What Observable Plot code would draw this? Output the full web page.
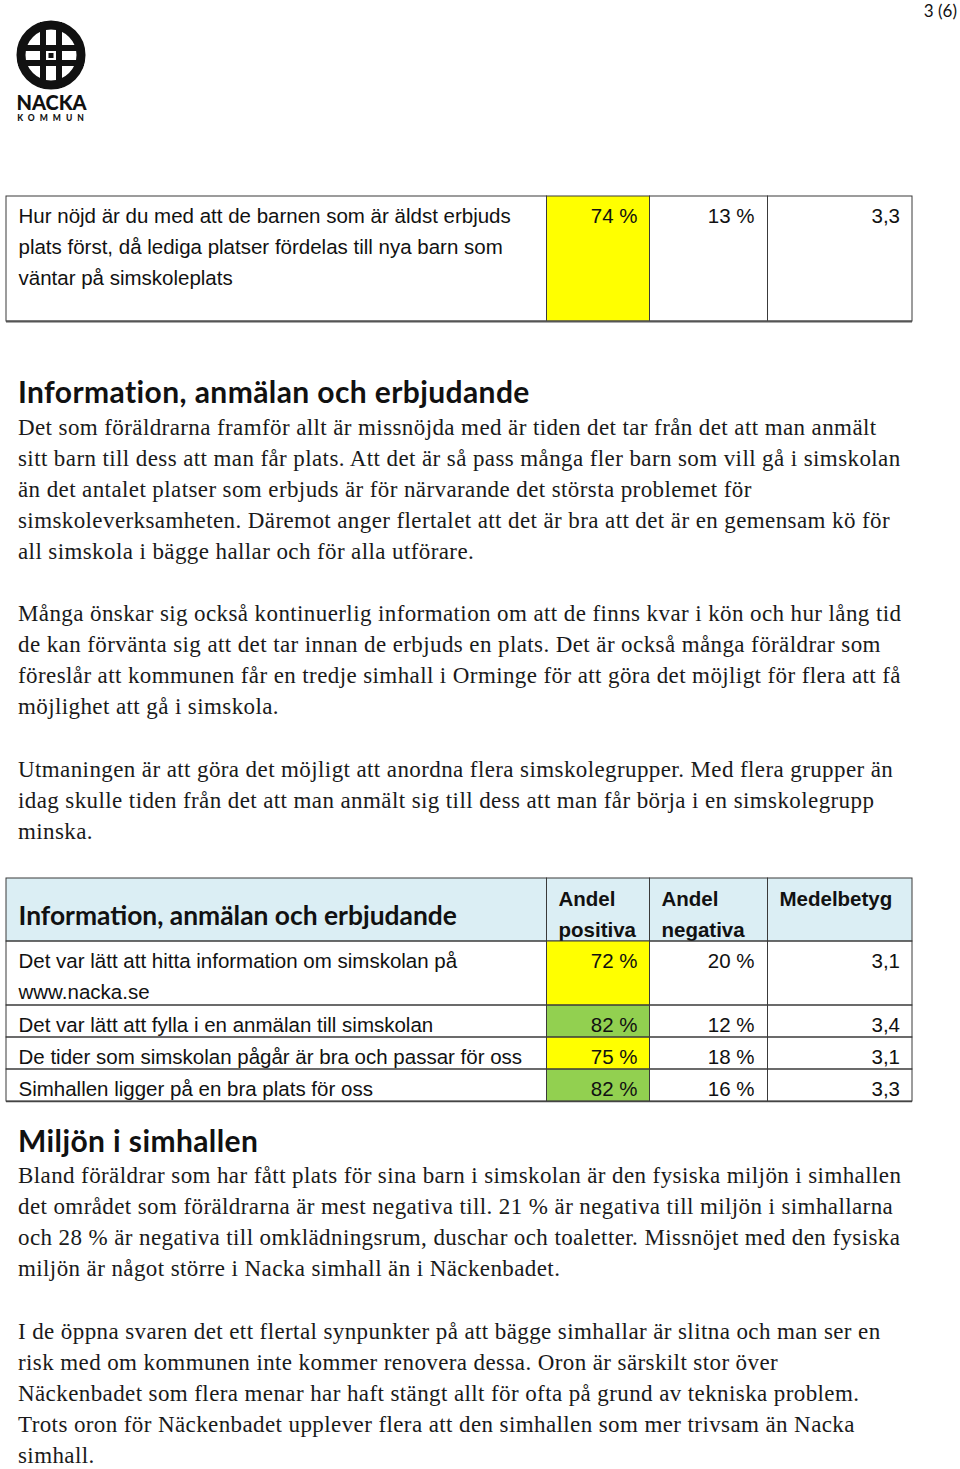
<!DOCTYPE html>
<html>
<head>
<meta charset="utf-8">
<script src="https://cdn.jsdelivr.net/npm/d3@7"></script>
<script src="https://cdn.jsdelivr.net/npm/@observablehq/plot@0.6"></script>
<style>
  html, body { margin: 0; padding: 0; background: #fff; }
  #page { position: relative; width: 960px; height: 1469px; overflow: hidden; background: #fff; color: #111; }
  .abs { position: absolute; white-space: nowrap; }
  .serif { font-family: "Liberation Serif", "Times New Roman", serif; font-size: 23px; letter-spacing: 0.4px; line-height: 31px; color: #1a1a1a; }
  .head { font-family: Lato, "Open Sans", sans-serif; font-weight: 700; font-size: 30px; letter-spacing: 0.4px; line-height: 34px; color: #111; }
</style>
</head>
<body>
<div id="page">
  <svg class="abs" style="left:0;top:0" width="110" height="130" viewBox="0 0 110 130">
    <circle cx="51" cy="55" r="30" fill="none" stroke="#111" stroke-width="9"/>
    <rect x="40" y="22" width="6" height="66" fill="#111"/>
    <rect x="56" y="22" width="6" height="66" fill="#111"/>
    <rect x="18" y="45" width="66" height="6" fill="#111"/>
    <rect x="18" y="60" width="66" height="6" fill="#111"/>
    <rect x="46" y="51" width="10" height="9" fill="#fff"/>
    <rect x="48.5" y="53" width="5" height="5" fill="#111"/>
    <text x="51.5" y="110" text-anchor="middle" font-family="Lato, sans-serif" font-weight="900" font-size="20" letter-spacing="0" fill="#111">NACKA</text>
    <text x="53" y="121" text-anchor="middle" font-family="Lato, sans-serif" font-weight="900" font-size="8.5" letter-spacing="5" fill="#111">KOMMUN</text>
  </svg>
  <div class="abs" style="right:3px;top:0px;font-family:Lato,sans-serif;font-size:17px;line-height:22px;color:#111">3 (6)</div>
  <div id="table1" class="abs" style="left:0;top:186px"></div>
  <div id="table2" class="abs" style="left:0;top:868px"></div>
</div>
<script>
// ---------- Data ----------
const t1Questions = ["Hur nöjd är du med att de barnen som är äldst erbjuds\nplats först, då lediga platser fördelas till nya barn som\nväntar på simskoleplats"];
const t1Positive = [74];
const t1Negative = [13];
const t1Average = [3.3];

const t2Title = "Information, anmälan och erbjudande";
const t2Headers = ["Andel\npositiva", "Andel\nnegativa", "Medelbetyg"];
const t2Questions = [
  "Det var lätt att hitta information om simskolan på\nwww.nacka.se",
  "Det var lätt att fylla i en anmälan till simskolan",
  "De tider som simskolan pågår är bra och passar för oss",
  "Simhallen ligger på en bra plats för oss"
];
const t2Positive = [72, 82, 75, 82];
const t2Negative = [20, 12, 18, 16];
const t2Average = [3.1, 3.4, 3.1, 3.3];

const headings = ["Information, anmälan och erbjudande", "Miljön i simhallen"];
const paragraphs = [
  ["Det som föräldrarna framför allt är missnöjda med är tiden det tar från det att man anmält",
   "sitt barn till dess att man får plats. Att det är så pass många fler barn som vill gå i simskolan",
   "än det antalet platser som erbjuds är för närvarande det största problemet för",
   "simskoleverksamheten. Däremot anger flertalet att det är bra att det är en gemensam kö för",
   "all simskola i bägge hallar och för alla utförare."],
  ["Många önskar sig också kontinuerlig information om att de finns kvar i kön och hur lång tid",
   "de kan förvänta sig att det tar innan de erbjuds en plats. Det är också många föräldrar som",
   "föreslår att kommunen får en tredje simhall i Orminge för att göra det möjligt för flera att få",
   "möjlighet att gå i simskola."],
  ["Utmaningen är att göra det möjligt att anordna flera simskolegrupper. Med flera grupper än",
   "idag skulle tiden från det att man anmält sig till dess att man får börja i en simskolegrupp",
   "minska."],
  ["Bland föräldrar som har fått plats för sina barn i simskolan är den fysiska miljön i simhallen",
   "det området som föräldrarna är mest negativa till. 21 % är negativa till miljön i simhallarna",
   "och 28 % är negativa till omklädningsrum, duschar och toaletter. Missnöjet med den fysiska",
   "miljön är något större i Nacka simhall än i Näckenbadet."],
  ["I de öppna svaren det ett flertal synpunkter på att bägge simhallar är slitna och man ser en",
   "risk med om kommunen inte kommer renovera dessa. Oron är särskilt stor över",
   "Näckenbadet som flera menar har haft stängt allt för ofta på grund av tekniska problem.",
   "Trots oron för Näckenbadet upplever flera att den simhallen som mer trivsam än Nacka",
   "simhall."]
];

// ---------- Layout (page text) ----------
const page = document.getElementById("page");
const headingTops = [374, 1123];
const paraTops = [412, 598, 754, 1160, 1316];
headings.forEach((h, i) => {
  const d = document.createElement("div");
  d.className = "abs head";
  d.style.left = "18px"; d.style.top = headingTops[i] + "px";
  d.textContent = h;
  page.appendChild(d);
});
paragraphs.forEach((lines, i) => {
  lines.forEach((ln, j) => {
    const d = document.createElement("div");
    d.className = "abs serif";
    d.style.left = "18px"; d.style.top = (paraTops[i] + j * 31.1) + "px";
    d.textContent = ln;
    page.appendChild(d);
  });
});

// ---------- Tables (Observable Plot) ----------
const colEdges = [6, 546.5, 649.5, 767.5, 912];
const lineH = 31;
const fs = 20.5;
const fmtPct = v => `${v} %`;
const fmtAvg = v => v.toFixed(1).replace(".", ",");
const sansFont = "'Liberation Sans', Arial, sans-serif";
const colorScale = {type: "threshold", domain: [80], range: ["#ffff00", "#92d050"]};

function buildRows(questions, pos, neg, avg, top, heights) {
  let y = top;
  return questions.map((q, i) => {
    const r = {q, lines: q.split("\n"), pos: pos[i], neg: neg[i], avg: avg[i], y1: y, y2: y + heights[i]};
    y += heights[i];
    return r;
  });
}

function tableMarks(rows) {
  const cells = rows.flatMap(r => [0, 1, 2, 3].map(c => ({...r, x1: colEdges[c], x2: colEdges[c + 1]})));
  const qLines = rows.flatMap(r => r.lines.map((t, j) => ({t, y: r.y1 + 20 + j * lineH})));
  const vals = rows.flatMap(r => [
    {t: fmtPct(r.pos), x: colEdges[2] - 12.5, y: r.y1 + 20},
    {t: fmtPct(r.neg), x: colEdges[3] - 13.5, y: r.y1 + 20},
    {t: fmtAvg(r.avg), x: colEdges[4] - 12.5, y: r.y1 + 20}
  ]);
  return [
    Plot.rect(rows, {x1: colEdges[1], x2: colEdges[2], y1: "y1", y2: "y2", fill: "pos"}),
    Plot.rect(cells, {x1: "x1", x2: "x2", y1: "y1", y2: "y2", fill: "none", stroke: "#3a3a3a", strokeWidth: 1}),
    Plot.text(qLines, {x: colEdges[0] + 12, y: "y", text: "t", textAnchor: "start", fontSize: fs, fontFamily: sansFont, fill: "#111"}),
    Plot.text(vals, {x: "x", y: "y", text: "t", textAnchor: "end", fontSize: fs, fontFamily: sansFont, fill: "#111"})
  ];
}

// Table 1
{
  const H = 145;
  const rows = buildRows(t1Questions, t1Positive, t1Negative, t1Average, 10, [125]);
  const chart = Plot.plot({
    width: 960, height: H, margin: 0,
    x: {domain: [0, 960], range: [0, 960], axis: null},
    y: {domain: [0, H], range: [0, H], axis: null},
    color: colorScale,
    marks: [
      ...tableMarks(rows),
      Plot.ruleY([rows[0].y2], {x1: colEdges[0], x2: colEdges[4], stroke: "#555", strokeWidth: 2})
    ]
  });
  chart.style.background = "transparent";
  document.getElementById("table1").appendChild(chart);
}

// Table 2
{
  const H = 245;
  const headTop = 10, headH = 63;
  const rows = buildRows(t2Questions, t2Positive, t2Negative, t2Average, headTop + headH, [64, 32, 32, 32]);
  const headCells = [0, 1, 2, 3].map(c => ({x1: colEdges[c], x2: colEdges[c + 1], y1: headTop, y2: headTop + headH}));
  const headLines = t2Headers.flatMap((h, c) => h.split("\n").map((t, j) => ({t, x: colEdges[c + 1] + 11.5, y: headTop + 21 + j * lineH})));
  const last = rows[rows.length - 1];
  const chart = Plot.plot({
    width: 960, height: H, margin: 0,
    x: {domain: [0, 960], range: [0, 960], axis: null},
    y: {domain: [0, H], range: [0, H], axis: null},
    color: colorScale,
    marks: [
      Plot.rect(headCells, {x1: "x1", x2: "x2", y1: "y1", y2: "y2", fill: "#dbeef4", stroke: "#3a3a3a", strokeWidth: 1}),
      Plot.text([t2Title], {x: colEdges[0] + 12, y: headTop + 38, text: d => d, textAnchor: "start", fontSize: 26.4, fontWeight: 700, fontFamily: "Lato, 'Open Sans', sans-serif", fill: "#111"}),
      Plot.text(headLines, {x: "x", y: "y", text: "t", textAnchor: "start", fontSize: fs, fontWeight: 700, fontFamily: sansFont, fill: "#111"}),
      ...tableMarks(rows),
      Plot.ruleY([last.y2], {x1: colEdges[0], x2: colEdges[4], stroke: "#444", strokeWidth: 1.6})
    ]
  });
  chart.style.background = "transparent";
  document.getElementById("table2").appendChild(chart);
}
</script>
</body>
</html>
